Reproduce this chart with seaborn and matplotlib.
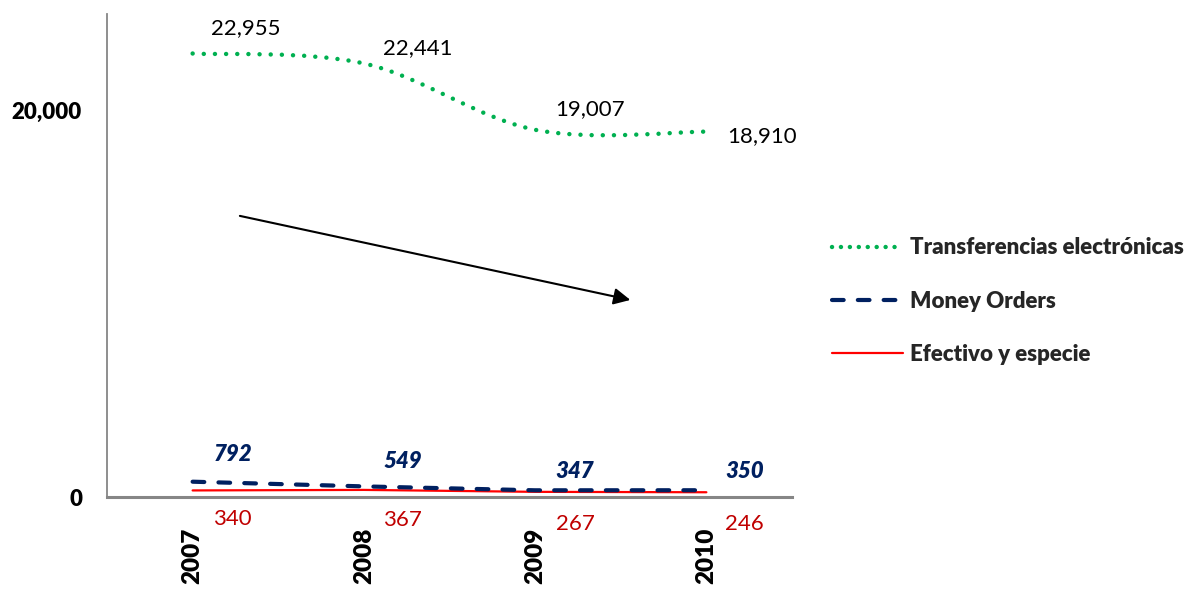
import numpy as np
import pandas as pd
import matplotlib
matplotlib.use("Agg")
import matplotlib.pyplot as plt
from matplotlib.lines import Line2D
from matplotlib.path import Path
from matplotlib.patches import PathPatch
import seaborn as sns

# Remittance flows by channel (millions), 2007-2010
years = ["2007", "2008", "2009", "2010"]
transferencias = [22955, 22441, 19007, 18910]
money_orders = [792, 549, 347, 350]
efectivo = [340, 367, 267, 246]

series_names = ["Transferencias electrónicas", "Money Orders", "Efectivo y especie"]
y_ticks = [0, 20000]
y_tick_labels = ["0", "20,000"]

GREEN = "#00B050"
NAVY = "#002060"
RED = "#FF0000"
DARK_RED = "#C00000"
SPINE = "#868686"

sns.set_theme(style="white")
plt.rcParams["font.family"] = ["Lato", "DejaVu Sans"]

fig = plt.figure(figsize=(11.86, 5.89), dpi=100)
ax = fig.add_axes([107 / 1186, 1 - 497 / 589, (792 - 107) / 1186, (497 - 14) / 589])

df = pd.DataFrame({
    "year": years * 3,
    "value": transferencias + money_orders + efectivo,
    "serie": [series_names[0]] * 4 + [series_names[1]] * 4 + [series_names[2]] * 4,
})

# lower series as seaborn lines
sns.lineplot(data=df[df.serie == series_names[2]], x="year", y="value", ax=ax,
             color=RED, lw=1.6, sort=False, legend=False)
sns.lineplot(data=df[df.serie == series_names[1]], x="year", y="value", ax=ax,
             color=NAVY, lw=3.0, sort=False, legend=False,
             dashes=False)
ax.get_lines()[-1].set_dashes((2.8, 3.4))
ax.get_lines()[-1].set_dash_capstyle("round")

# electronic transfers: seaborn line, re-rendered as a smoothed Bezier path
sns.lineplot(data=df[df.serie == series_names[0]], x="year", y="value", ax=ax,
             color=GREEN, lw=3.2, sort=False, legend=False)
gline = ax.get_lines()[-1]
xs = np.asarray(gline.get_xdata(), dtype=float)
ys = np.asarray(gline.get_ydata(), dtype=float)
pts = np.column_stack([xs, ys])
verts = [pts[0]]
codes = [Path.MOVETO]
n = len(pts)
for i in range(n - 1):
    p0 = pts[i - 1] if i > 0 else pts[i]
    p1 = pts[i]
    p2 = pts[i + 1]
    p3 = pts[i + 2] if i + 2 < n else pts[i + 1]
    verts += [p1 + (p2 - p0) / 6.0, p2 - (p3 - p1) / 6.0, p2]
    codes += [Path.CURVE4] * 3
gline.set_visible(False)
smooth = PathPatch(Path(verts, codes), fill=False, edgecolor=GREEN, lw=3.2,
                   linestyle=(0, (0.01, 2.5)), capstyle="round",
                   transform=ax.transData)
ax.add_patch(smooth)

ax.set_xlim(-0.5, 3.5)
ax.set_ylim(0, 25000)
ax.set_yticks(y_ticks)
ax.set_yticklabels(y_tick_labels)
ax.set_xlabel("")
ax.set_ylabel("")
ax.tick_params(axis="y", length=0, pad=18, labelsize=16)
ax.tick_params(axis="x", length=0, pad=22, labelsize=17.5, labelrotation=90)
for lab in ax.get_xticklabels() + ax.get_yticklabels():
    lab.set_fontweight("heavy")
    lab.set_color("black")

for side in ["top", "right"]:
    ax.spines[side].set_visible(False)
ax.spines["left"].set_color(SPINE)
ax.spines["left"].set_linewidth(1.3)
ax.spines["bottom"].set_color(SPINE)
ax.spines["bottom"].set_linewidth(2.2)
ax.grid(False)

# data labels
green_offsets = [(53, 25), (54, 15), (55, 21), (56, -4)]
navy_offsets = [(40, 27), (39, 25), (40, 19), (38, 19)]
red_offsets = [(40, -29), (39, -30), (40, -32), (38, -32)]
for i in range(len(years)):
    ax.annotate(f"{transferencias[i]:,}", (i, transferencias[i]),
                xytext=green_offsets[i], textcoords="offset pixels",
                ha="center", va="center", fontsize=16, color="black")
    ax.annotate(f"{money_orders[i]:,}", (i, money_orders[i]),
                xytext=navy_offsets[i], textcoords="offset pixels",
                ha="center", va="center", fontsize=16, color=NAVY,
                fontweight="heavy", fontstyle="italic")
    ax.annotate(f"{efectivo[i]:,}", (i, efectivo[i]),
                xytext=red_offsets[i], textcoords="offset pixels",
                ha="center", va="center", fontsize=16, color=DARK_RED)

# trend arrow
ax.annotate("", xy=(0.764, 0.408), xytext=(0.194, 0.582), xycoords="axes fraction",
            textcoords="axes fraction",
            arrowprops=dict(arrowstyle="-|>", color="black", lw=1.5,
                            mutation_scale=25, shrinkA=0, shrinkB=0))

handles = [
    Line2D([], [], color=GREEN, lw=3.2, linestyle=(0, (0.01, 2.0)),
           dash_capstyle="round"),
    Line2D([], [], color=NAVY, lw=3.0, linestyle=(0, (2.8, 3.4)),
           dash_capstyle="round"),
    Line2D([], [], color=RED, lw=1.6),
]
leg = ax.legend(handles, series_names, loc="center left",
                bbox_to_anchor=(832 / 1186, 1 - 301 / 589),
                bbox_transform=fig.transFigure, frameon=False,
                borderaxespad=0, borderpad=0, handlelength=3.2,
                handletextpad=0.3, labelspacing=1.45,
                prop={"size": 16, "weight": "heavy"})

fig.savefig("out.png", dpi=100, facecolor="white")
